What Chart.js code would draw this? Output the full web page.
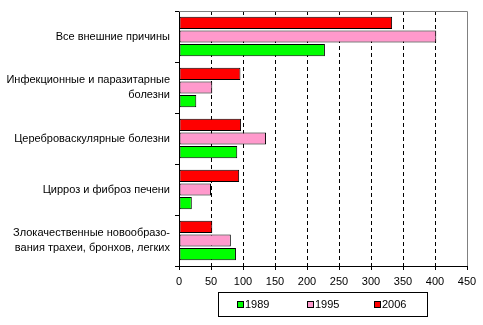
<!DOCTYPE html>
<html>
<head>
<meta charset="utf-8">
<script src="https://cdn.jsdelivr.net/npm/chart.js@4"></script>
<style>
  html, body { margin: 0; padding: 0; background: #fff; }
  #wrap { width: 483px; height: 325px; }
</style>
</head>
<body>
<div id="wrap"><canvas id="myChart" width="483" height="325"></canvas></div>
<script>
const categories = [
  "Все внешние причины",
  ["Инфекционные и паразитарные", "болезни"],
  "Цереброваскулярные болезни",
  "Цирроз и фиброз печени",
  ["Злокачественные новообразо-", "вания трахеи, бронхов, легких"],
];

const years = ["1989", "1995", "2006"];
const values1989 = [228, 27, 91, 20, 89];
const values1995 = [402, 52, 136, 50, 81];
const values2006 = [333, 96, 97, 94, 52];
const xTicks = [0, 50, 100, 150, 200, 250, 300, 350, 400, 450];

const ctx = document.getElementById("myChart").getContext("2d");
const fontStr = "11px Arial, 'Liberation Sans', sans-serif";

// dashed grid lines behind the bars
const gridPlugin = {
  id: "dashGrid",
  beforeDatasetsDraw(chart) {
    const a = chart.chartArea;
    const x = chart.scales.x;
    const c = chart.ctx;
    c.save();
    c.strokeStyle = "#000";
    c.lineWidth = 1;
    c.setLineDash([4, 3]);
    xTicks.slice(1, -1).forEach(v => {
      const px = Math.round(x.getPixelForValue(v)) + 0.5;
      c.beginPath();
      c.moveTo(px, a.top);
      c.lineTo(px, a.bottom);
      c.stroke();
    });
    c.restore();
  }
};

// gray frame on top and right, and the boxed legend under the plot
const framePlugin = {
  id: "frame",
  afterDraw(chart) {
    const a = chart.chartArea;
    const c = chart.ctx;
    c.save();
    c.strokeStyle = "#808080";
    c.lineWidth = 1;
    c.beginPath();
    c.moveTo(a.left, Math.round(a.top) + 0.5);
    c.lineTo(Math.round(a.right) + 0.5, Math.round(a.top) + 0.5);
    c.lineTo(Math.round(a.right) + 0.5, a.bottom);
    c.stroke();

    const mid = Math.round((a.left + a.right) / 2);
    const boxL = mid - 105, boxT = 292;
    c.strokeStyle = "#000";
    c.strokeRect(boxL + 0.5, boxT + 0.5, 209, 24);

    const order = [2, 1, 0];
    const offs = [19, 89, 156];
    c.font = fontStr;
    c.textBaseline = "middle";
    order.forEach((di, k) => {
      const d = chart.data.datasets[di];
      const sx = boxL + offs[k];
      c.fillStyle = d.backgroundColor;
      c.fillRect(sx, 301, 6, 6);
      c.strokeStyle = "#000";
      c.strokeRect(sx + 0.5, 301.5, 6, 6);
      c.fillStyle = "#000";
      c.fillText(d.label, sx + 8, 304.5);
    });
    c.restore();
  }
};

const font = { family: "Arial, 'Liberation Sans', sans-serif", size: 11 };

const myChart = new Chart(ctx, {
  type: "bar",
  data: {
    labels: categories,
    datasets: [
      { label: years[2], data: values2006, backgroundColor: "#FF0000" },
      { label: years[1], data: values1995, backgroundColor: "#FF99CC" },
      { label: years[0], data: values1989, backgroundColor: "#00FF00" },
    ].map(d => Object.assign(d, {
      borderColor: "#000",
      borderWidth: 1,
      borderSkipped: false,
      categoryPercentage: 0.8,
      barPercentage: 0.9,
    })),
  },
  options: {
    indexAxis: "y",
    responsive: false,
    animation: false,
    layout: { padding: { left: 0, right: 16, top: 11, bottom: 35 } },
    plugins: {
      tooltip: { enabled: false },
      legend: { display: false },
    },
    scales: {
      x: {
        min: 0,
        max: 450,
        afterBuildTicks(scale) {
          scale.ticks = xTicks.map(v => ({ value: v }));
        },
        afterFit(scale) { scale.height = 24; },
        ticks: { color: "#000", font: font, padding: 5, maxRotation: 0 },
        border: { color: "#000", width: 1 },
        grid: {
          drawOnChartArea: false,
          tickColor: "#000",
          tickLength: 4,
          lineWidth: 1,
        },
      },
      y: {
        afterFit(scale) {
          scale.width = 179;
          scale.paddingTop = 0;
          scale.paddingBottom = 0;
        },
        ticks: { color: "#000", font: Object.assign({ lineHeight: 1.4 }, font), padding: 5 },
        border: { color: "#000", width: 1 },
        grid: {
          offset: true,
          drawOnChartArea: false,
          tickColor: "#000",
          tickLength: 4,
        },
      },
    },
  },
  plugins: [gridPlugin, framePlugin],
});
</script>
</body>
</html>
